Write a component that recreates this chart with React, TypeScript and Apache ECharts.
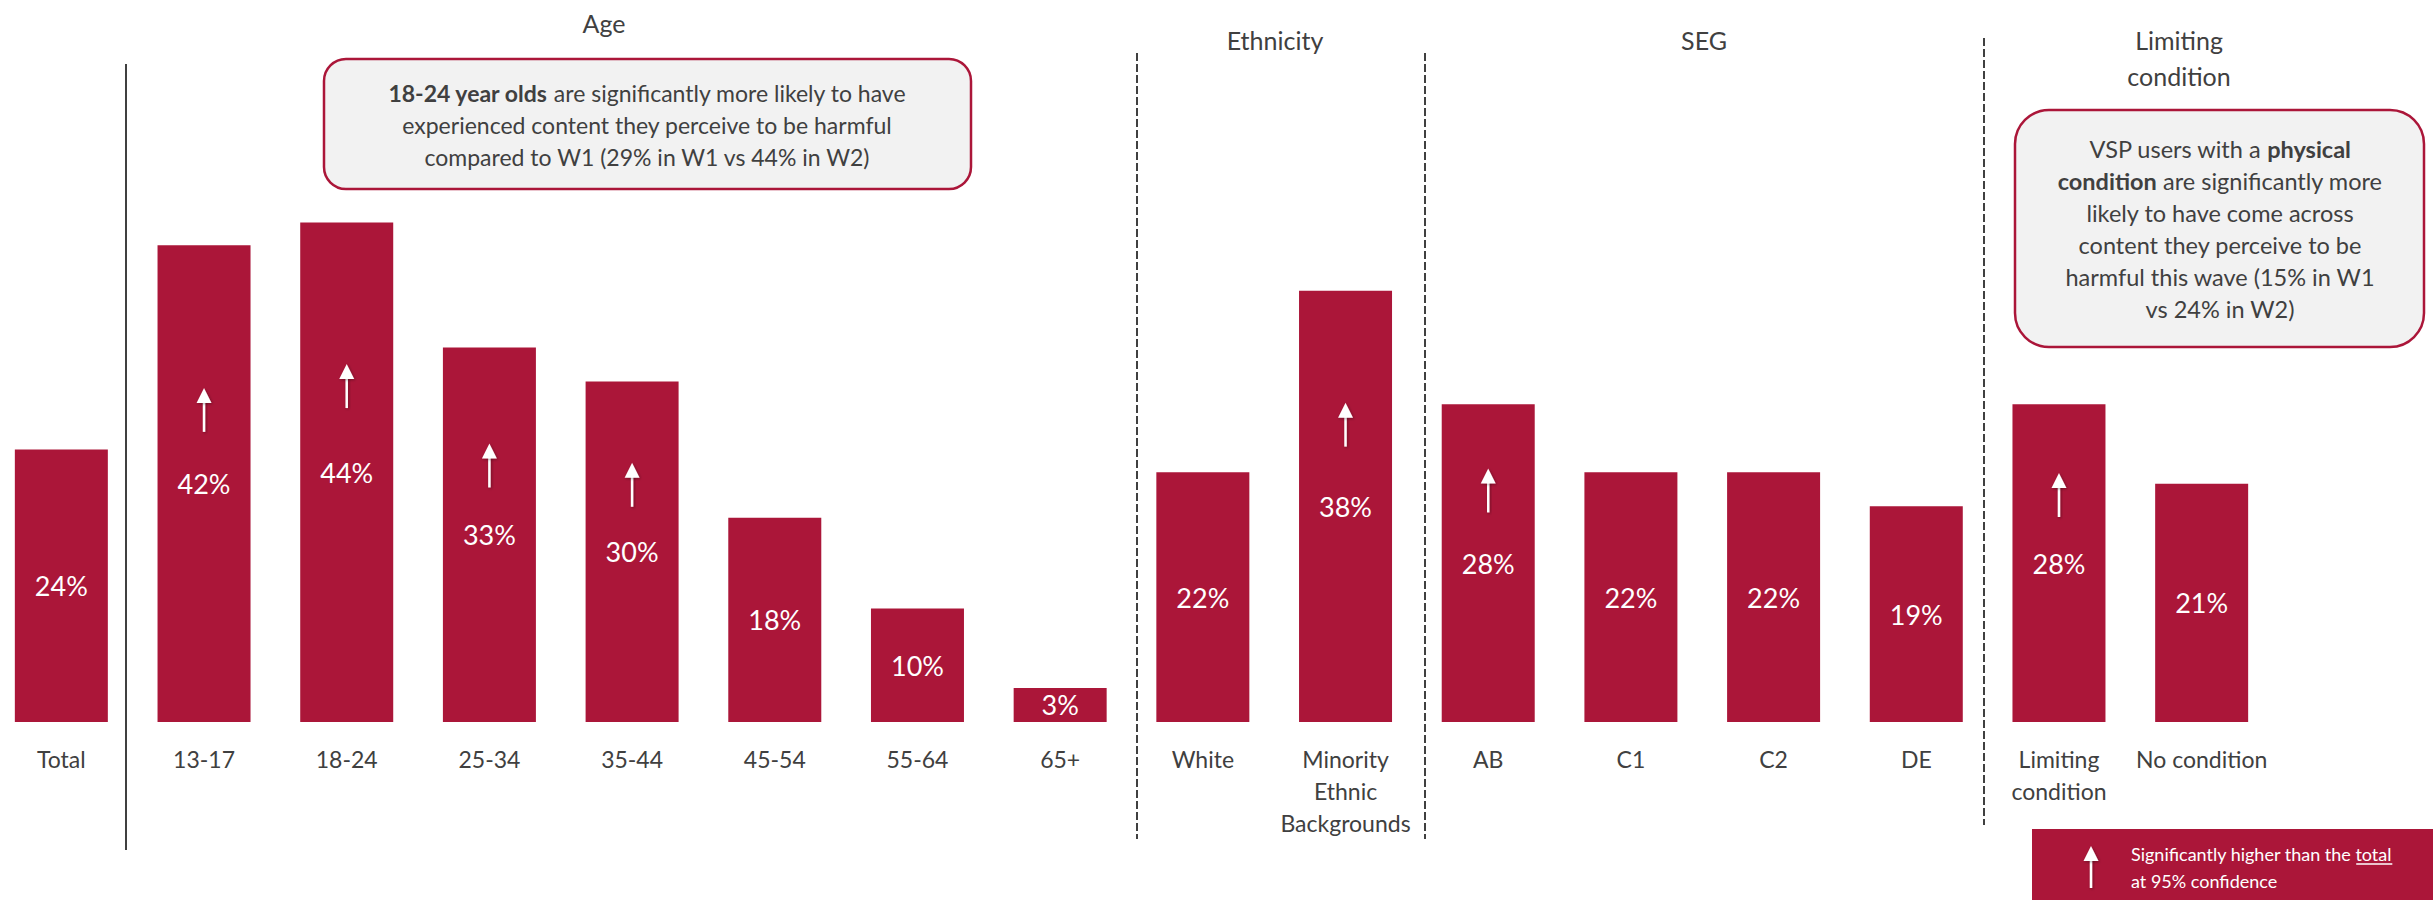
import React, { useEffect, useRef } from "react";
import * as echarts from "echarts";

// ---------- data ----------
const categories = [
  "Total",
  "13-17",
  "18-24",
  "25-34",
  "35-44",
  "45-54",
  "55-64",
  "65+",
  "White",
  "Minority\nEthnic\nBackgrounds",
  "AB",
  "C1",
  "C2",
  "DE",
  "Limiting\ncondition",
  "No condition",
];
const values = [24, 42, 44, 33, 30, 18, 10, 3, 22, 38, 28, 22, 22, 19, 28, 21];

// categories significantly higher than total, and the value level where the arrow sits
const arrowCategories = [
  "13-17",
  "18-24",
  "25-34",
  "35-44",
  "Minority\nEthnic\nBackgrounds",
  "AB",
  "Limiting\ncondition",
];
const arrowLevels = [27.5, 29.6, 22.6, 20.9, 26.2, 20.4, 20.0];

const groupHeaders = ["Age", "Ethnicity", "SEG", "Limiting\ncondition"];

const note1 =
  "{b|18-24 year olds} are significantly more likely to have\nexperienced content they perceive to be harmful\ncompared to W1 (29% in W1 vs 44% in W2)";
const note2 =
  "VSP users with a {b|physical}\n{b|condition} are significantly more\nlikely to have come across\ncontent they perceive to be\nharmful this wave (15% in W1\nvs 24% in W2)";
const legendLine1a = "Significantly higher than the ";
const legendLine1b = "total";
const legendLine2 = "at 95% confidence";

// ---------- styles ----------
const CRIMSON = "#ab1639";
const DARK = "#404040";
const FONT = "Lato, 'Open Sans', sans-serif";

export default function App() {
  const ref = useRef<HTMLDivElement>(null);

  useEffect(() => {
    if (!ref.current) return;
    const chart = echarts.init(ref.current, undefined, { renderer: "svg" });

    const ctx = document.createElement("canvas").getContext("2d")!;
    ctx.font = `18px ${FONT}`;
    const wA = ctx.measureText(legendLine1a).width;
    const wB = ctx.measureText(legendLine1b).width;

    const richBase = {
      fontSize: 23,
      lineHeight: 32,
      fontFamily: FONT,
      fill: DARK,
    };

    const shadow = {
      shadowBlur: 3,
      shadowColor: "rgba(0,0,0,0.35)",
      shadowOffsetX: 1,
      shadowOffsetY: 1,
    };

    const option: any = {
      animation: false,
      backgroundColor: "#ffffff",
      grid: {
        left: -10,
        right: 160,
        top: 154.5,
        bottom: 178,
        containLabel: false,
        outerBoundsMode: "none",
      },
      xAxis: {
        type: "category",
        data: categories,
        axisLine: { show: false },
        axisTick: { show: false },
        axisLabel: {
          interval: 0,
          color: DARK,
          fontSize: 23,
          lineHeight: 32,
          fontFamily: FONT,
          margin: 21,
        },
      },
      yAxis: {
        type: "value",
        min: 0,
        max: 50,
        show: false,
        splitLine: { show: false },
      },
      series: [
        {
          type: "bar",
          data: values,
          barWidth: 93,
          itemStyle: { color: CRIMSON },
          label: {
            show: true,
            position: "inside",
            formatter: "{c}%",
            color: "#ffffff",
            fontSize: 27,
            fontFamily: FONT,
          },
          z: 2,
        },
        {
          type: "custom",
          z: 5,
          data: arrowCategories.map((c, i) => [c, arrowLevels[i]]),
          renderItem: (_params: any, api: any) => {
            const p = api.coord([api.value(0), api.value(1)]);
            const half = 22;
            return {
              type: "group",
              children: [
                {
                  type: "rect",
                  shape: { x: p[0] - 1.25, y: p[1] - half + 12, width: 2.5, height: 2 * half - 12 },
                  style: { fill: "#ffffff", ...shadow },
                },
                {
                  type: "polygon",
                  shape: {
                    points: [
                      [p[0], p[1] - half],
                      [p[0] - 7.5, p[1] - half + 15],
                      [p[0] + 7.5, p[1] - half + 15],
                    ],
                  },
                  style: { fill: "#ffffff", ...shadow },
                },
              ],
            };
          },
        },
      ],
      graphic: [
        // separators
        {
          type: "line",
          shape: { x1: 126, y1: 64, x2: 126, y2: 850 },
          style: { stroke: DARK, lineWidth: 2 },
        },
        {
          type: "line",
          shape: { x1: 1137, y1: 53, x2: 1137, y2: 839 },
          style: { stroke: DARK, lineWidth: 2, lineDash: [8, 3] },
        },
        {
          type: "line",
          shape: { x1: 1425, y1: 53, x2: 1425, y2: 839 },
          style: { stroke: DARK, lineWidth: 2, lineDash: [8, 3] },
        },
        {
          type: "line",
          shape: { x1: 1984, y1: 38, x2: 1984, y2: 825 },
          style: { stroke: DARK, lineWidth: 2, lineDash: [8, 3] },
        },
        // group headers
        {
          type: "text",
          x: 604,
          y: 23,
          style: { text: groupHeaders[0], fontSize: 25, fontFamily: FONT, fill: DARK, align: "center", verticalAlign: "middle" },
        },
        {
          type: "text",
          x: 1275,
          y: 40,
          style: { text: groupHeaders[1], fontSize: 25, fontFamily: FONT, fill: DARK, align: "center", verticalAlign: "middle" },
        },
        {
          type: "text",
          x: 1704,
          y: 40,
          style: { text: groupHeaders[2], fontSize: 25, fontFamily: FONT, fill: DARK, align: "center", verticalAlign: "middle" },
        },
        {
          type: "text",
          x: 2179,
          y: 58,
          style: {
            text: groupHeaders[3],
            fontSize: 25,
            lineHeight: 36,
            fontFamily: FONT,
            fill: DARK,
            align: "center",
            verticalAlign: "middle",
          },
        },
        // annotation box 1
        {
          type: "rect",
          shape: { x: 324, y: 59, width: 647, height: 130, r: 22 },
          style: { fill: "#f2f2f2", stroke: CRIMSON, lineWidth: 2.5 },
        },
        {
          type: "text",
          x: 647,
          y: 125,
          style: {
            text: note1,
            fontSize: 23,
            lineHeight: 32,
            fontFamily: FONT,
            fill: DARK,
            align: "center",
            verticalAlign: "middle",
            rich: {
              b: { ...richBase, fontWeight: "bold" },
            },
          },
        },
        // annotation box 2
        {
          type: "rect",
          shape: { x: 2015, y: 110, width: 409, height: 237, r: 34 },
          style: { fill: "#f2f2f2", stroke: CRIMSON, lineWidth: 2.5 },
        },
        {
          type: "text",
          x: 2220,
          y: 229,
          style: {
            text: note2,
            fontSize: 23.5,
            lineHeight: 32,
            fontFamily: FONT,
            fill: DARK,
            align: "center",
            verticalAlign: "middle",
            rich: {
              b: { ...richBase, fontSize: 23.5, fontWeight: "bold" },
            },
          },
        },
        // legend box
        {
          type: "rect",
          shape: { x: 2032, y: 829, width: 401, height: 71 },
          style: { fill: CRIMSON },
        },
        {
          type: "rect",
          shape: { x: 2089.75, y: 858, width: 2.5, height: 30 },
          style: { fill: "#ffffff", ...shadow },
        },
        {
          type: "polygon",
          shape: { points: [[2091, 846], [2083.5, 861], [2098.5, 861]] },
          style: { fill: "#ffffff", ...shadow },
        },
        {
          type: "text",
          x: 2131,
          y: 854,
          style: { text: legendLine1a + legendLine1b, fontSize: 18, fontFamily: FONT, fill: "#ffffff", align: "left", verticalAlign: "middle" },
        },
        {
          type: "line",
          shape: { x1: 2131 + wA, y1: 864, x2: 2131 + wA + wB, y2: 864 },
          style: { stroke: "#ffffff", lineWidth: 1.5 },
        },
        {
          type: "text",
          x: 2131,
          y: 881,
          style: { text: legendLine2, fontSize: 18, fontFamily: FONT, fill: "#ffffff", align: "left", verticalAlign: "middle" },
        },
      ],
    };

    chart.setOption(option);
    return () => chart.dispose();
  }, []);

  return (
    <div
      ref={ref}
      style={{ position: "fixed", left: 0, top: 0, width: 2433, height: 900, background: "#fff" }}
    />
  );
}
